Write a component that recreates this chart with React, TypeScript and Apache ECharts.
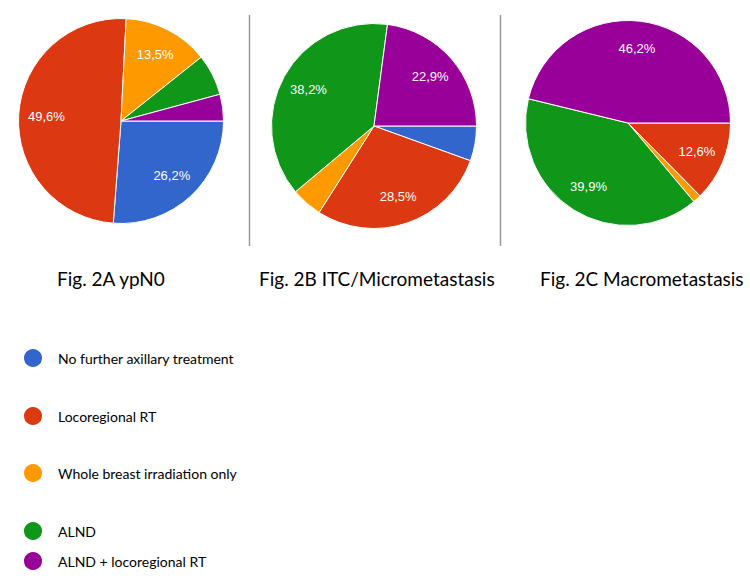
import React, { useEffect, useRef } from "react";
import * as echarts from "echarts";

const categories = [
  "No further axillary treatment",
  "Locoregional RT",
  "Whole breast irradiation only",
  "ALND",
  "ALND + locoregional RT",
];
const sliceColors = ["#3366cc", "#dc3912", "#ff9900", "#109618", "#990099"];

const captions = ["Fig. 2A ypN0", "Fig. 2B ITC/Micrometastasis", "Fig. 2C Macrometastasis"];

// percentages per category, in category order
const ypN0 = [26.2, 49.6, 13.5, 6.5, 4.2];
const itcMicro = [5.5, 28.5, 4.9, 38.2, 22.9];
const macro = [0, 12.6, 1.3, 39.9, 46.2];

const pies = [ypN0, itcMicro, macro];

// layout (pixels)
const pieCenters: [number, number][] = [
  [121, 121],
  [374, 126],
  [628, 123],
];
const pieRadius = 102.5;
const captionPos = [
  [57, 269],
  [259, 269],
  [540, 269],
];
const legendTops = [347, 405, 462, 520, 550];
const separatorX = [249.5, 500.5];

const fmt = (v: number) => v.toFixed(1).replace(".", ",") + "%";

export default function App() {
  const ref = useRef<HTMLDivElement>(null);
  useEffect(() => {
    if (!ref.current) return;
    const chart = echarts.init(ref.current, null, { renderer: "svg" });

    const series: any[] = [];
    pies.forEach((vals, pi) => {
      const data = vals
        .map((v, i) => ({
          name: categories[i],
          value: v,
          itemStyle: { color: sliceColors[i] },
        }))
        .filter((d) => d.value > 0);
      series.push({
        type: "pie",
        center: pieCenters[pi],
        radius: [0, pieRadius],
        startAngle: 0,
        clockwise: true,
        silent: true,
        label: { show: false },
        labelLine: { show: false },
        itemStyle: { borderColor: "#ffffff", borderWidth: 1 },
        data,
      });
      // overlay carrying the percentage labels further out along the radius
      series.push({
        type: "pie",
        center: pieCenters[pi],
        radius: [pieRadius * 0.4, pieRadius],
        startAngle: 0,
        clockwise: true,
        silent: true,
        labelLine: { show: false },
        label: {
          show: true,
          position: "inside",
          color: "#ffffff",
          fontSize: 13,
          fontFamily: "Liberation Sans, Arial, sans-serif",
          formatter: (p: any) => (p.value >= 10 ? fmt(p.value) : ""),
        },
        itemStyle: { color: "rgba(0,0,0,0)", borderWidth: 0 },
        data: data.map((d) => ({ name: d.name, value: d.value, itemStyle: { color: "rgba(0,0,0,0)" } })),
      });
    });

    const legends = categories.map((c, i) => ({
      data: [{ name: c, itemStyle: { color: sliceColors[i] } }],
      left: 22,
      top: legendTops[i],
      padding: 0,
      icon: "circle",
      itemWidth: 40,
      itemHeight: 20,
      selectedMode: false,
      textStyle: { fontFamily: "Lato", fontSize: 14, color: "#000000" },
    }));

    const titles = captions.map((t, i) => ({
      text: t,
      left: captionPos[i][0],
      top: captionPos[i][1],
      padding: 0,
      textStyle: { fontFamily: "Lato", fontSize: 19, fontWeight: "normal", color: "#000000" },
    }));

    chart.setOption({
      animation: false,
      backgroundColor: "#ffffff",
      title: titles,
      legend: legends,
      graphic: separatorX.map((x) => ({
        type: "line",
        shape: { x1: x, y1: 15, x2: x, y2: 246 },
        style: { stroke: "#999999", lineWidth: 1.5 },
        silent: true,
      })),
      series,
    });
    return () => chart.dispose();
  }, []);
  return (
    <div
      ref={ref}
      style={{ position: "absolute", left: 0, top: 0, width: 750, height: 576 }}
    />
  );
}
